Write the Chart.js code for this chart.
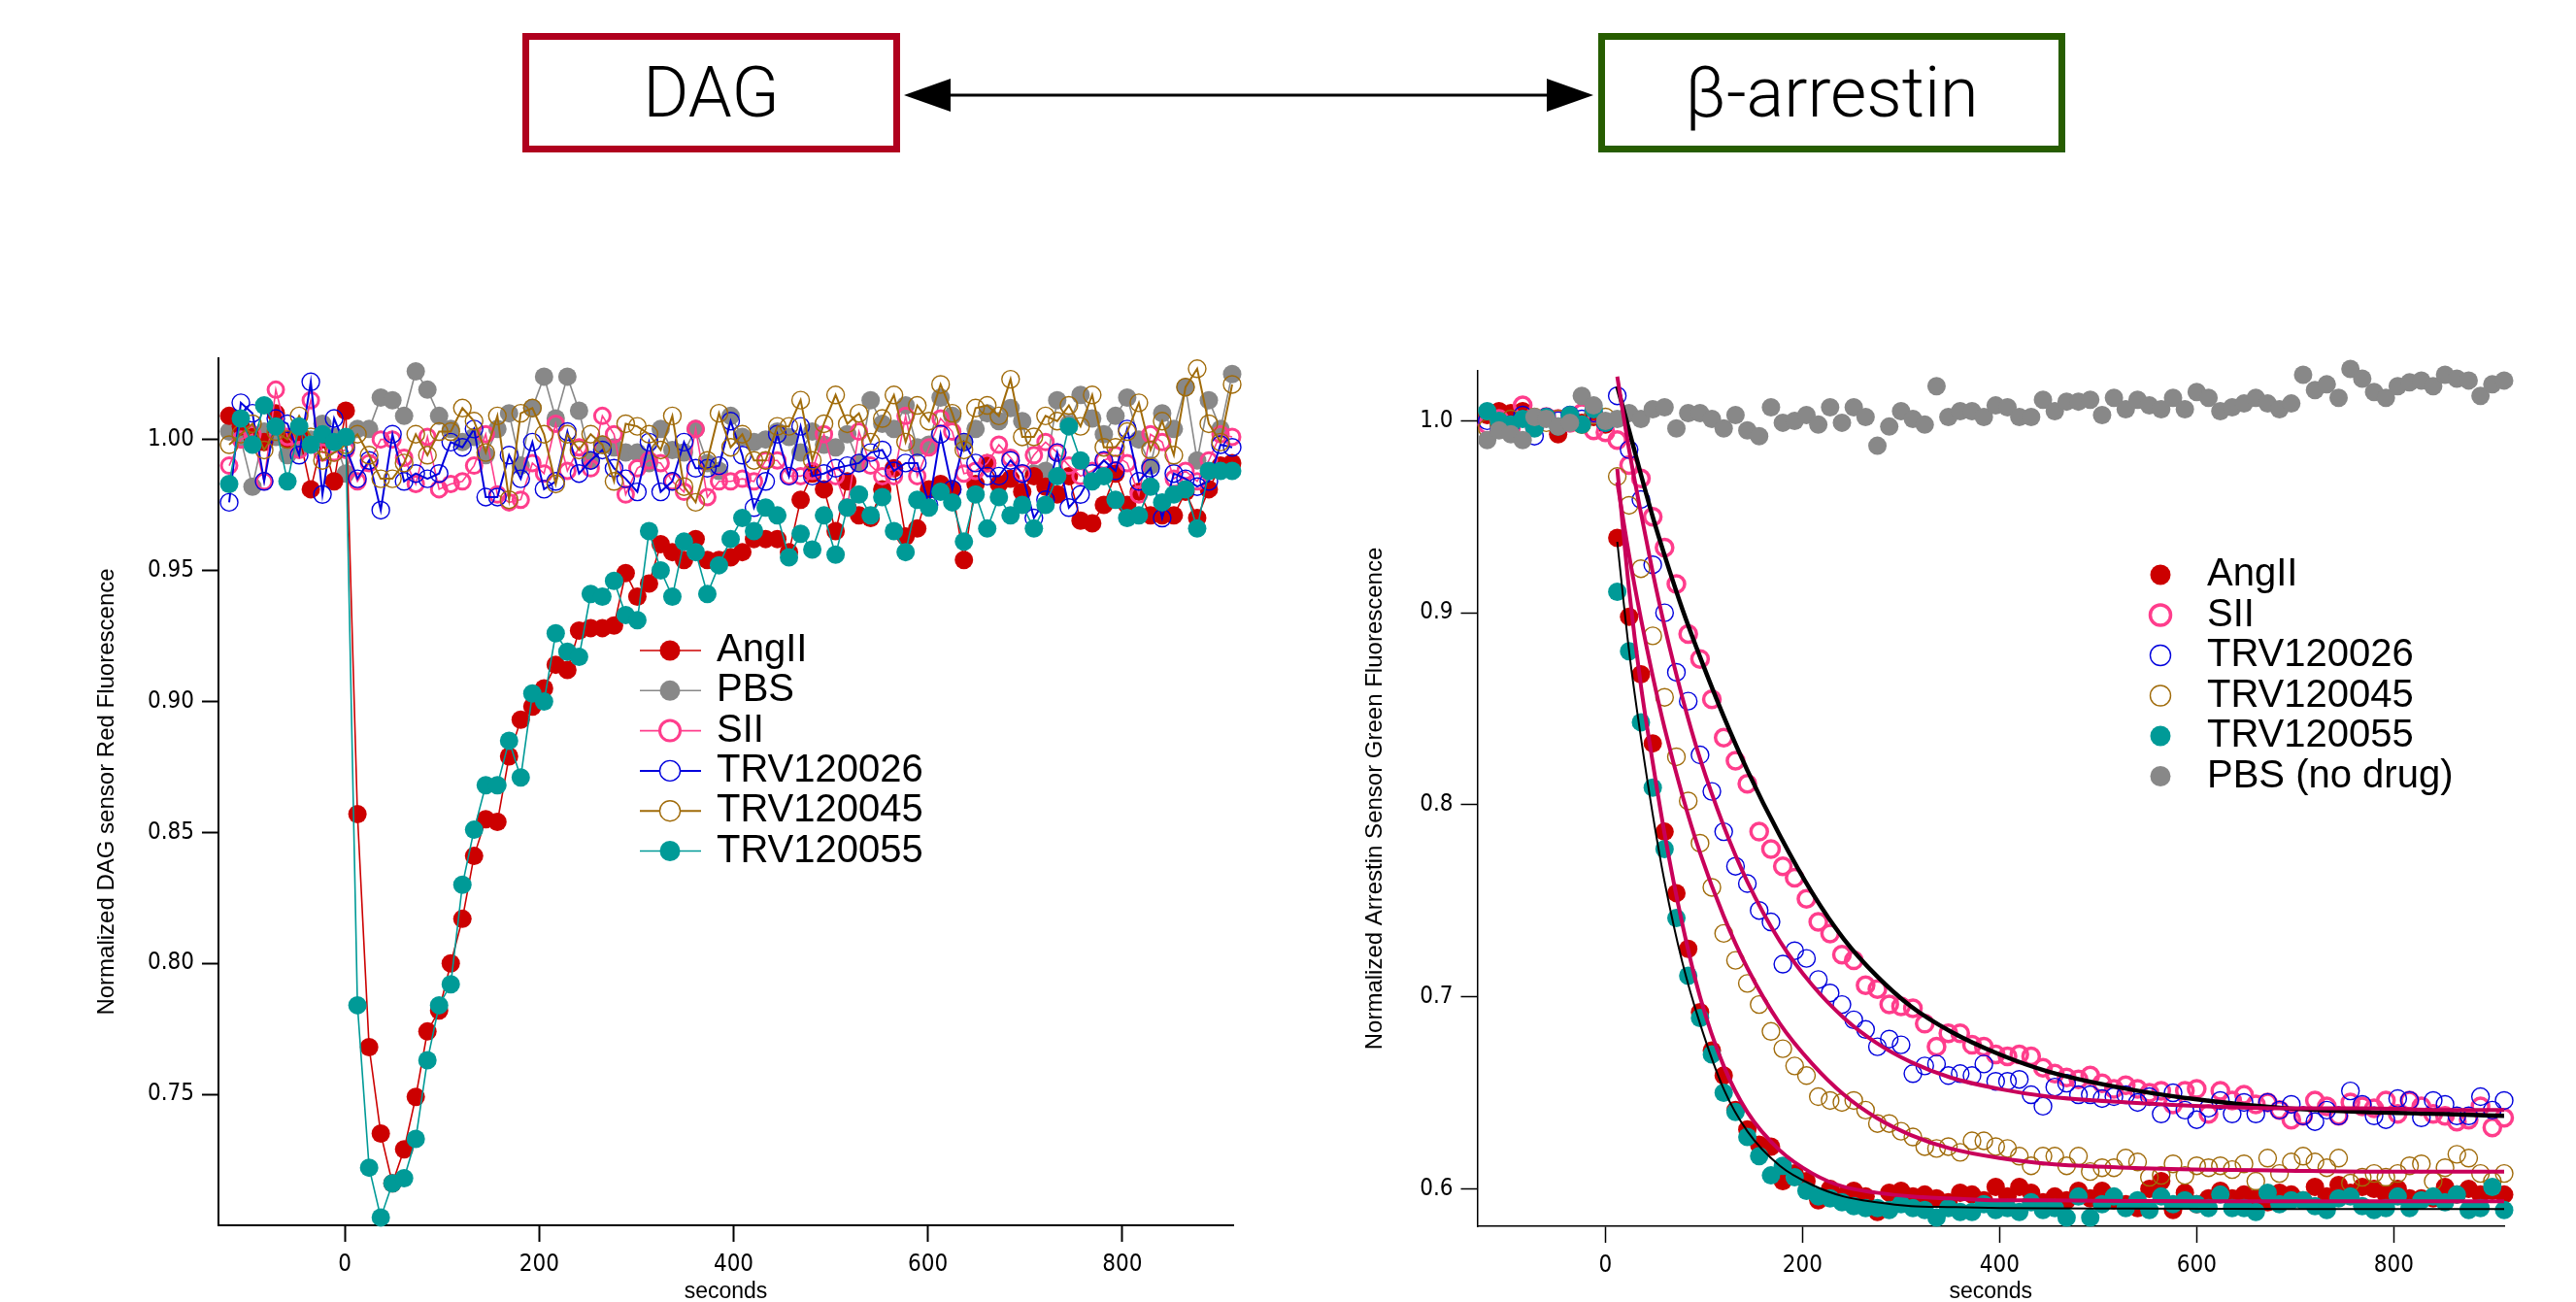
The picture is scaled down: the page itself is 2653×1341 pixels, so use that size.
<!DOCTYPE html>
<html lang="en">
<head>
<meta charset="UTF-8">
<title>DAG and beta-arrestin sensor kinetics</title>
<script src="https://cdn.jsdelivr.net/npm/chart.js"></script>
<style>
  body { margin: 0; width: 2653px; height: 1341px; background: #fff; position: relative; overflow: hidden;
         font-family: 'Liberation Sans', Arial, sans-serif; }
  .box { position: absolute; top: 34px; height: 123px; box-sizing: border-box; border: 7px solid;
         display: flex; align-items: center; justify-content: center;
         font-family: Roboto, 'Liberation Sans', sans-serif; font-size: 72px; font-weight: 300; color: #000; }
  #dagBox { left: 538px; width: 389px; border-color: #b0001e; }
  #arrBox { left: 1646px; width: 481px; border-color: #275d00; }
  #arrow { position: absolute; left: 927px; top: 70px; }
  canvas { position: absolute; top: 300px; }
  #dagChart { left: 0; }
  #arrChart { left: 1330px; }
</style>
</head>
<body>
<div class="box" id="dagBox">DAG</div>
<div class="box" id="arrBox">β-arrestin</div>
<svg id="arrow" width="719" height="56">
  <line x1="50" y1="28" x2="668" y2="28" stroke="#000" stroke-width="3"/>
  <polygon points="4,28 52,11 52,45" fill="#000"/>
  <polygon points="714,28 666,11 666,45" fill="#000"/>
</svg>
<canvas id="dagChart" width="1330" height="1041"></canvas>
<canvas id="arrChart" width="1323" height="1041"></canvas>
<script>
// ---- DAG sensor (left panel) ----
const dagTimes = [-119,-107,-95,-83,-71,-59,-47,-35,-23,-11,
  1,13,25,37,49,61,73,85,97,109,121,133,145,157,169,181,193,205,217,229,
  241,253,265,277,289,301,313,325,337,349,361,373,385,397,409,421,433,445,457,469,
  481,493,505,517,529,541,553,565,577,589,601,613,625,637,649,661,673,685,697,709,
  721,733,745,757,769,781,793,805,817,829,841,853,865,877,889,901,913];

const dagAngII = [1.009,1.005,1.001,0.999,1.010,1.000,1.002,0.981,1.000,0.984,1.011,
  0.857,0.768,0.735,0.716,0.729,0.749,0.774,0.782,0.800,0.817,0.841,0.855,0.854,
  0.879,0.893,0.898,0.905,0.914,0.912,0.927,0.928,0.928,0.929,0.949,0.940,0.945,0.960,0.957,0.954,0.962,0.954,0.954,
  0.955,0.957,0.962,0.962,0.962,0.957,0.977,0.987,0.981,0.965,
  0.984,0.971,0.970,0.981,0.989,0.963,0.966,0.981,0.983,0.981,
  0.954,0.983,0.991,0.983,0.985,0.980,0.986,0.982,0.979,0.986,
  0.969,0.968,0.975,0.987,0.975,0.980,0.971,0.971,0.971,0.980,
  0.970,0.981,0.990,0.991];
const dagPBS = [1.003,1.000,0.982,1.003,1.001,0.994,0.997,1.000,1.006,1.001,
  0.987,1.004,1.004,1.016,1.015,1.009,1.026,1.019,1.009,1.004,
  0.999,1.001,0.994,1.004,1.010,0.990,1.012,1.024,1.008,1.024,
  1.011,0.992,0.998,0.997,0.995,0.995,0.991,1.004,0.996,0.995,
  1.004,0.991,0.988,
  1.009,1.001,0.999,1.000,1.003,1.001,0.995,1.003,0.998,0.997,
  1.002,0.991,1.015,1.006,1.004,1.013,0.997,0.998,1.016,1.009,
  0.999,1.004,1.010,1.007,1.012,1.007,0.987,0.988,1.015,1.006,
  1.017,1.008,1.002,1.009,1.016,1.000,0.990,1.010,1.004,1.020,
  0.992,1.015,1.004,1.025];
const dagSII = [0.990,1.000,1.002,0.984,1.019,1.001,0.996,1.015,0.995,0.995,
  0.996,0.984,0.991,1.000,1.000,0.993,0.983,1.001,0.981,0.983,
  0.984,0.990,1.002,0.979,0.976,0.977,0.991,0.987,1.006,0.988,
  0.997,0.989,1.009,1.002,0.979,0.989,0.992,0.991,0.984,0.980,
  1.004,0.978,0.984,
  0.984,0.985,0.984,0.992,0.992,0.986,0.986,0.988,1.002,0.986,
  0.974,1.003,0.990,0.986,0.986,1.009,0.986,0.997,1.008,1.003,
  0.987,0.988,0.991,0.998,0.993,0.987,0.994,0.999,0.995,0.990,
  0.986,0.988,0.992,0.994,0.991,0.979,1.002,0.999,0.985,0.988,
  0.984,0.992,1.002,1.001];
const dagTRV026 = [0.976,1.014,1.010,0.984,1.008,1.006,0.994,1.022,0.979,1.008,
  0.997,0.985,0.992,0.973,1.002,0.984,0.987,0.985,0.987,0.999,
  0.997,1.004,0.978,0.978,0.994,0.985,0.999,0.981,0.984,1.003,
  0.987,0.992,0.996,0.989,0.985,0.980,0.999,0.980,0.984,0.999,
  0.989,0.989,0.990,
  1.007,0.994,0.974,0.984,1.002,0.986,1.005,0.986,0.987,0.989,
  0.990,0.991,0.995,0.996,0.988,0.991,0.991,0.975,1.002,0.981,
  0.999,0.991,0.986,0.986,0.992,0.987,0.970,0.977,0.995,0.974,
  0.979,0.987,0.992,0.988,1.004,0.984,0.989,0.970,0.987,0.985,
  0.982,0.984,0.998,0.997];
const dagTRV045 = [0.998,1.002,1.006,0.996,1.003,1.000,1.009,1.001,0.992,0.995,
  0.998,1.002,0.994,0.985,0.985,0.991,1.002,0.994,1.003,1.003,
  1.012,1.007,0.995,1.009,0.977,1.010,1.012,1.002,0.983,1.002,
  0.996,1.002,0.998,0.984,1.006,1.005,1.002,0.996,1.009,0.982,
  0.976,0.992,1.010,
  0.997,1.002,0.992,0.992,1.005,1.005,1.015,0.992,1.006,1.017,
  1.006,1.010,0.999,1.008,1.017,0.999,1.013,1.007,1.021,1.010,
  0.996,1.012,1.013,1.009,1.023,1.001,1.001,1.009,1.007,1.013,
  1.005,1.017,0.997,0.997,1.003,1.014,0.996,1.007,0.994,1.020,
  1.027,1.006,0.999,1.021];
const dagTRV055 = [0.983,1.008,0.998,1.013,1.005,0.984,1.005,0.998,1.002,0.999,1.001,
  0.784,0.722,0.703,0.716,0.718,0.733,0.763,0.784,0.792,0.830,0.851,0.868,0.868,
  0.885,0.871,0.903,0.900,0.926,0.919,0.917,0.941,0.940,0.946,0.933,0.931,0.965,0.950,0.940,0.961,0.957,0.941,0.952,
  0.962,0.970,0.965,0.974,0.971,0.955,0.964,0.958,0.971,0.956,
  0.974,0.979,0.971,0.978,0.965,0.957,0.977,0.974,0.980,0.976,
  0.961,0.979,0.966,0.978,0.971,0.975,0.966,0.975,0.986,1.005,
  0.992,0.984,0.986,0.977,0.970,0.971,0.982,0.976,0.979,0.981,
  0.966,0.988,0.988,0.988];

const dagTicksY = [0.75, 0.80, 0.85, 0.90, 0.95, 1.00];

// ---- Arrestin sensor (right panel) ----
const arrTimes = [-120,-108,-96,-84,-72,-60,-48,-36,-24,-12,
  0,12,24,36,48,60,72,84,96,108,120,132,144,156,168,180,192,204,216,228,
  240,252,264,276,288,300,312,324,336,348,360,372,384,396,408,420,432,444,456,468,
  480,492,504,516,528,540,552,564,576,588,600,612,624,636,648,660,672,684,696,708,
  720,732,744,756,768,780,792,804,816,828,840,852,864,876,888,900,912];

const arrAngII = [1.003,1.005,1.004,1.005,0.997,1.002,0.993,1.001,0.999,1.002,0.998,
  0.939,0.898,0.868,0.832,0.786,0.754,0.725,0.692,0.672,0.659,
  0.641,0.631,0.623,0.622,0.604,0.608,0.604,0.594,0.600,0.596,
  0.599,0.596,0.588,0.598,0.599,0.596,0.597,0.595,0.593,0.598,
  0.597,0.594,0.601,0.596,0.601,0.598,0.593,0.596,0.594,0.599,
  0.595,0.599,0.594,0.592,0.590,0.600,0.604,0.589,0.598,0.592,
  0.595,0.599,0.595,0.597,0.595,0.593,0.598,0.597,0.594,0.601,
  0.596,0.602,0.598,0.601,0.600,0.597,0.600,0.595,0.595,0.595,
  0.601,0.597,0.600,0.597,0.599,0.597];
const arrSII = [0.998,1.001,0.996,1.008,0.997,1.002,1.001,0.999,1.004,0.995,0.994,
  0.990,0.977,0.970,0.950,0.934,0.915,0.889,0.876,0.855,0.835,
  0.823,0.811,0.786,0.777,0.768,0.762,0.751,0.739,0.733,0.722,
  0.719,0.706,0.704,0.696,0.695,0.694,0.686,0.674,0.681,0.681,
  0.675,0.674,0.670,0.669,0.670,0.669,0.663,0.660,0.658,0.657,
  0.659,0.655,0.652,0.654,0.652,0.650,0.651,0.644,0.651,0.652,
  0.639,0.651,0.646,0.649,0.644,0.645,0.641,0.636,0.638,0.646,
  0.643,0.638,0.645,0.643,0.642,0.646,0.639,0.646,0.643,0.639,
  0.638,0.635,0.636,0.643,0.632,0.637];
const arrTRV026 = [1.000,0.996,0.998,1.003,0.992,1.002,1.000,1.003,1.001,1.004,0.999,
  1.013,0.985,0.959,0.925,0.900,0.869,0.854,0.826,0.807,0.786,
  0.768,0.759,0.745,0.739,0.717,0.724,0.720,0.709,0.702,0.696,
  0.688,0.683,0.674,0.678,0.675,0.660,0.664,0.665,0.659,0.660,
  0.659,0.665,0.656,0.656,0.657,0.649,0.643,0.653,0.655,0.649,
  0.649,0.647,0.648,0.649,0.645,0.648,0.639,0.650,0.641,0.636,
  0.642,0.646,0.639,0.645,0.639,0.645,0.641,0.644,0.638,0.635,
  0.641,0.638,0.651,0.644,0.638,0.636,0.647,0.646,0.637,0.646,
  0.644,0.638,0.638,0.648,0.641,0.646];
const arrTRV045 = [0.996,0.998,1.001,0.997,1.002,0.999,1.001,1.000,0.998,1.003,1.002,
  0.971,0.956,0.923,0.888,0.856,0.825,0.802,0.780,0.757,0.733,
  0.719,0.707,0.696,0.682,0.673,0.664,0.659,0.648,0.646,0.645,
  0.646,0.641,0.634,0.634,0.630,0.627,0.622,0.621,0.622,0.619,
  0.625,0.625,0.622,0.621,0.617,0.612,0.617,0.617,0.612,0.617,
  0.609,0.611,0.611,0.616,0.614,0.606,0.607,0.613,0.607,0.612,
  0.611,0.612,0.610,0.613,0.604,0.616,0.608,0.614,0.617,0.614,
  0.611,0.616,0.603,0.606,0.608,0.606,0.608,0.612,0.613,0.604,
  0.611,0.618,0.616,0.608,0.604,0.608];
const arrTRV055 = [1.005,1.000,0.998,1.001,0.996,1.002,0.997,1.003,0.998,1.006,0.999,
  0.911,0.880,0.843,0.809,0.777,0.741,0.711,0.689,0.670,0.650,
  0.640,0.627,0.617,0.607,0.612,0.606,0.599,0.596,0.595,0.593,
  0.591,0.590,0.590,0.589,0.592,0.590,0.589,0.585,0.590,0.588,
  0.588,0.592,0.589,0.590,0.588,0.593,0.589,0.590,0.585,0.596,
  0.585,0.592,0.596,0.590,0.594,0.589,0.596,0.592,0.594,0.592,
  0.590,0.597,0.590,0.590,0.588,0.598,0.592,0.594,0.594,0.591,
  0.589,0.595,0.596,0.591,0.589,0.590,0.596,0.590,0.594,0.596,
  0.593,0.597,0.589,0.590,0.601,0.589];
const arrPBS = [0.990,0.995,0.993,0.990,1.002,1.001,0.997,0.999,1.013,1.008,1.000,
  1.001,1.004,1.001,1.006,1.007,0.996,1.004,1.004,1.001,0.996,
  1.003,0.995,0.992,1.007,0.999,1.000,1.003,0.998,1.007,0.999,
  1.007,1.002,0.987,0.997,1.005,1.001,0.998,1.018,1.002,1.005,
  1.005,1.002,1.008,1.007,1.002,1.002,1.011,1.005,1.010,1.010,
  1.011,1.003,1.012,1.006,1.011,1.008,1.006,1.012,1.006,1.015,
  1.012,1.005,1.007,1.009,1.012,1.009,1.006,1.009,1.024,1.016,
  1.019,1.012,1.027,1.022,1.015,1.012,1.018,1.020,1.021,1.018,
  1.024,1.022,1.021,1.013,1.019,1.021];

// exponential fit curves
const fitTimes = [12,24,36,48,60,78,96,120,144,177,210,242,275,310,350,400,450,530,610,690,770,850,912];
const fitSII = [1.018,0.995,0.972,0.950,0.930,0.902,0.877,0.846,0.818,0.784,0.754,0.730,0.711,0.695,0.682,0.670,0.661,0.652,0.646,0.642,0.640,0.639,0.638];
const fitTRV026 = [1.023,0.985,0.952,0.921,0.893,0.856,0.824,0.789,0.760,0.729,0.706,0.689,0.676,0.666,0.658,0.652,0.648,0.645,0.643,0.642,0.642,0.641,0.641];
const fitTRV045 = [0.968,0.930,0.897,0.867,0.840,0.805,0.775,0.742,0.715,0.686,0.665,0.649,0.637,0.628,0.621,0.616,0.613,0.611,0.610,0.6095,0.609,0.609,0.609];
const fitAngII = [0.975,0.912,0.862,0.822,0.785,0.738,0.700,0.664,0.640,0.620,0.608,0.601,0.598,0.596,0.595,0.594,0.594,0.5937,0.5935,0.5935,0.5935,0.5935,0.5935];
const fitTRV055 = [0.937,0.880,0.835,0.795,0.760,0.718,0.686,0.652,0.630,0.612,0.602,0.596,0.593,0.591,0.5905,0.590,0.5898,0.5897,0.5896,0.5895,0.5895,0.5895,0.5895];

const arrTicksY = [0.6, 0.7, 0.8, 0.9, 1.0];
const secondsTicks = [0, 200, 400, 600, 800];

// ---- helpers ----
const pts = (times, vals) => times.map((t, i) => ({ x: t, y: vals[i] }));

const RED = '#cc0000', GREY = '#888888', PINK = '#ff3d8c', BLUE = '#0000dd',
      GOLD = '#a06b0a', TEAL = '#009a97', CRIMSON = '#c8005a';

Chart.defaults.font.family = "'Liberation Sans', Arial, sans-serif";
Chart.defaults.color = '#000';

// legend drawn inside the plot, Igor style
const markerLegend = {
  id: 'markerLegend',
  afterDatasetsDraw(chart, args, o) {
    const ctx = chart.ctx;
    ctx.save();
    ctx.font = o.font;
    ctx.textBaseline = 'middle';
    let row = 0;
    chart.data.datasets.forEach(ds => {
      if (ds.inLegend === false) return;
      const y = o.top + row * o.rowHeight;
      if (o.lines) {
        ctx.strokeStyle = ds.borderColor;
        ctx.lineWidth = ds.borderWidth;
        ctx.beginPath(); ctx.moveTo(o.lineX0, y); ctx.lineTo(o.lineX1, y); ctx.stroke();
      }
      ctx.beginPath();
      ctx.arc(o.markerX, y, o.radius, 0, Math.PI * 2);
      if (ds.pointBackgroundColor !== 'transparent') {
        ctx.fillStyle = ds.pointBackgroundColor; ctx.fill();
      } else {
        ctx.fillStyle = '#fff'; ctx.fill();
        ctx.strokeStyle = ds.pointBorderColor; ctx.lineWidth = ds.pointBorderWidth; ctx.stroke();
      }
      ctx.fillStyle = '#000';
      ctx.fillText(ds.label, o.textX, y);
      row++;
    });
    ctx.restore();
  }
};

function tickFont() { return { size: 24, family: "'Liberation Sans Narrow', 'DejaVu Sans Condensed', 'Liberation Sans', sans-serif" }; }

function axes(opts) {
  return {
    x: {
      type: 'linear', min: opts.xmin, max: opts.xmax,
      afterBuildTicks: s => { s.ticks = secondsTicks.map(v => ({ value: v })); },
      afterFit: s => { s.height = opts.xh; },
      ticks: { font: tickFont(), padding: 9, maxRotation: 0 },
      grid: { display: true, drawOnChartArea: false, drawTicks: true, tickLength: 17, tickWidth: opts.lw, tickColor: '#000' },
      border: { display: true, color: '#000', width: opts.lw },
      title: { display: true, text: 'seconds', font: { size: 23, lineHeight: 0.9 }, padding: { top: 0, bottom: 0 } }
    },
    y: {
      type: 'linear', min: opts.ymin, max: opts.ymax,
      afterBuildTicks: s => { s.ticks = opts.yticks.map(v => ({ value: v })); },
      afterFit: s => { s.width = opts.yw; },
      ticks: { font: tickFont(), padding: 8, callback: v => v.toFixed(opts.dec) },
      grid: { display: true, drawOnChartArea: false, drawTicks: true, tickLength: 17, tickWidth: opts.lw, tickColor: '#000' },
      border: { display: true, color: '#000', width: opts.lw },
      title: { display: true, text: opts.ytitle, font: { size: opts.ytsize }, padding: { top: opts.ytpad, bottom: 0 } }
    }
  };
}

function lineSeries(label, vals, color, filled, extra) {
  return Object.assign({
    label: label,
    data: pts(dagTimes, vals),
    showLine: true,
    borderColor: color,
    borderWidth: 1.6,
    pointRadius: filled ? 9.5 : 9,
    pointBackgroundColor: filled ? color : 'transparent',
    pointBorderColor: color,
    pointBorderWidth: filled ? 0 : 1.4,
    clip: false
  }, extra || {});
}

new Chart(document.getElementById('dagChart'), {
  type: 'scatter',
  data: {
    datasets: [
      lineSeries('AngII', dagAngII, RED, true, { order: 5 }),
      lineSeries('PBS', dagPBS, GREY, true, { order: 6 }),
      lineSeries('SII', dagSII, PINK, false, { order: 4, pointBorderWidth: 3, pointRadius: 8 }),
      lineSeries('TRV120026', dagTRV026, BLUE, false, { order: 3, borderWidth: 2 }),
      lineSeries('TRV120045', dagTRV045, GOLD, false, { order: 2, borderWidth: 2 }),
      lineSeries('TRV120055', dagTRV055, TEAL, true, { order: 1 })
    ]
  },
  options: {
    responsive: false,
    animation: false,
    events: [],
    layout: { padding: { top: 69, right: 60, bottom: 0, left: 0 } },
    scales: axes({ xmin: -130, xmax: 914, ymin: 0.70, ymax: 1.031, yticks: dagTicksY, dec: 2,
                   xh: 79, yw: 225, lw: 2, ytitle: 'Normalized DAG sensor Red Fluorescence', ytsize: 24, ytpad: 96 }),
    plugins: {
      legend: { display: false },
      tooltip: { enabled: false },
      markerLegend: { font: "40px 'Liberation Sans', Arial, sans-serif", top: 370, rowHeight: 41.3,
                      lines: true, lineX0: 659, lineX1: 722, markerX: 690, radius: 10.5, textX: 738 }
    }
  },
  plugins: [markerLegend]
});

function dots(label, vals, color, filled, order, extra) {
  return Object.assign({
    label: label,
    data: pts(arrTimes, vals),
    showLine: false,
    pointRadius: filled ? 9.5 : 9,
    pointBackgroundColor: filled ? color : 'transparent',
    pointBorderColor: color,
    pointBorderWidth: filled ? 0 : 1.4,
    order: order,
    clip: false
  }, extra || {});
}

function fitLine(vals, color, width) {
  return {
    label: 'fit',
    inLegend: false,
    data: pts(fitTimes, vals),
    showLine: true,
    cubicInterpolationMode: 'monotone',
    borderColor: color,
    borderWidth: width,
    pointRadius: 0,
    order: 0
  };
}

new Chart(document.getElementById('arrChart'), {
  type: 'scatter',
  data: {
    datasets: [
      dots('AngII', arrAngII, RED, true, 6),
      dots('SII', arrSII, PINK, false, 5, { pointBorderWidth: 3.5, pointRadius: 8.5 }),
      dots('TRV120026', arrTRV026, BLUE, false, 4),
      dots('TRV120045', arrTRV045, GOLD, false, 3),
      dots('TRV120055', arrTRV055, TEAL, true, 2),
      dots('PBS (no drug)', arrPBS, GREY, true, 1),
      fitLine(fitTRV055, '#000', 2),
      fitLine(fitAngII, CRIMSON, 4),
      fitLine(fitTRV045, CRIMSON, 4),
      fitLine(fitTRV026, CRIMSON, 4),
      fitLine(fitSII, '#000', 4.5)
    ]
  },
  options: {
    responsive: false,
    animation: false,
    events: [],
    layout: { padding: { top: 82, right: 74, bottom: 0, left: 0 } },
    scales: axes({ xmin: -130, xmax: 912, ymin: 0.5805, ymax: 1.026, yticks: arrTicksY, dec: 1,
                   xh: 78, yw: 191.5, lw: 1.5, ytitle: 'Normalized Arrestin Sensor Green Fluorescence', ytsize: 24, ytpad: 72 }),
    plugins: {
      legend: { display: false },
      tooltip: { enabled: false },
      markerLegend: { font: "40px 'Liberation Sans', Arial, sans-serif", top: 292, rowHeight: 41.5,
                      lines: false, markerX: 895, radius: 10.5, textX: 943 }
    }
  },
  plugins: [markerLegend]
});
</script>
</body>
</html>
